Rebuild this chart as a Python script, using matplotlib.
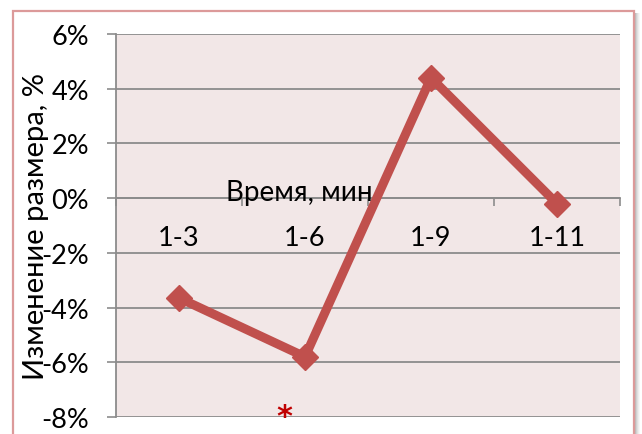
import matplotlib
matplotlib.use('Agg')
import matplotlib.pyplot as plt
from matplotlib.patches import Rectangle
from matplotlib.ticker import FixedLocator, FuncFormatter

plt.rcParams['font.family'] = ['Lato', 'DejaVu Sans']

# Data
categories = ['1-3', '1-6', '1-9', '1-11']
values = [-3.65, -5.8, 4.4, -0.2]
y_ticks = [-8, -6, -4, -2, 0, 2, 4, 6]

W, H = 642, 435
fig = plt.figure(figsize=(W / 100, H / 100), dpi=100)
fig.patch.set_facecolor('white')

# outer frame with a soft shadow on the right
for i, a in enumerate([0.25, 0.18, 0.12, 0.07, 0.03]):
    fig.add_artist(Rectangle(((635 + i) / W, -0.1), 1 / W, (H - 14) / H + 0.1,
                             transform=fig.transFigure, facecolor='black',
                             alpha=a, edgecolor='none'))
fig.add_artist(Rectangle((13 / W, -0.1), 621 / W, (H - 12) / H + 0.1,
                         transform=fig.transFigure, facecolor='none',
                         edgecolor='#DC9A9A', linewidth=1.6))

ax = fig.add_axes([116 / W, 17 / H, 504 / W, 383 / H])
ax.set_facecolor('#F2E7E7')

x = list(range(len(categories)))
ax.plot(x, values, color='#C0504D', linewidth=6.5, marker='D', markersize=13,
        solid_joinstyle='miter', zorder=3)

ax.set_xlim(-0.5, len(categories) - 0.5)
ax.set_ylim(-8, 6)

# y axis
ax.set_yticks(y_ticks)
ax.yaxis.set_major_formatter(FuncFormatter(lambda v, p: '%d%%' % v))
ax.tick_params(axis='y', length=6.5, width=1.2, color='#8C8C8C', pad=13,
               labelsize=19.5)
ax.grid(axis='y', color='#8C8C8C', linewidth=1.3)
ax.set_axisbelow(True)

# category axis crossing at zero
ax.spines['bottom'].set_position(('data', 0))
ax.spines['bottom'].set_color('#8C8C8C')
ax.spines['bottom'].set_linewidth(1.3)
ax.spines['left'].set_color('#8C8C8C')
ax.spines['left'].set_linewidth(1.3)
ax.spines['top'].set_visible(False)
ax.spines['right'].set_visible(False)
ax.xaxis.set_major_locator(FixedLocator([i - 0.5 for i in range(len(categories) + 1)]))
ax.xaxis.set_major_formatter(FuncFormatter(lambda v, p: ''))
ax.xaxis.set_minor_locator(FixedLocator(x))
ax.xaxis.set_minor_formatter(FuncFormatter(lambda v, p: categories[int(round(v))]))
ax.tick_params(axis='x', which='major', length=6, width=1.2, color='#8C8C8C')
ax.tick_params(axis='x', which='minor', length=0, pad=19, labelsize=19.5)

ax.set_ylabel('Изменение размера, %', fontsize=21)
ax.yaxis.set_label_coords(-0.132, 0.5)

ax.text(0.364, 0.567, 'Время, мин', transform=ax.transAxes, fontsize=20,
        ha='center', va='baseline')
ax.text(0.84, -8.0, '*', color='#C00000', fontsize=22, fontweight='bold',
        family='DejaVu Sans', ha='center', va='center', clip_on=False)

fig.savefig('out.png', dpi=100)
